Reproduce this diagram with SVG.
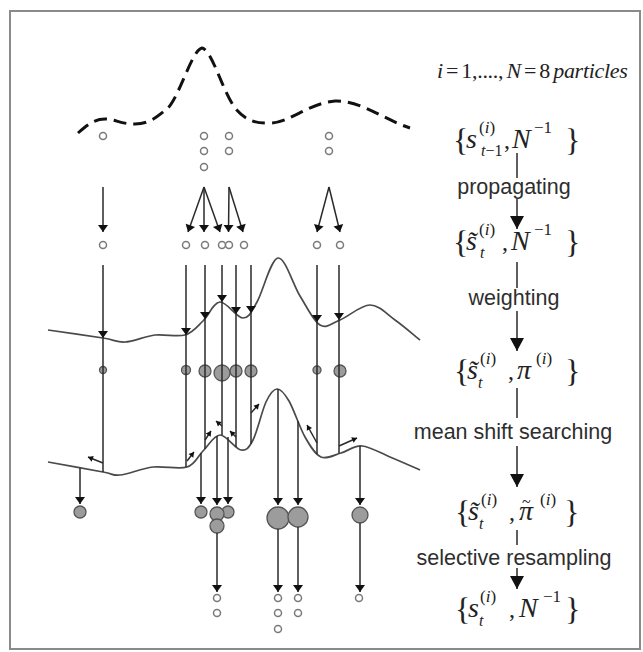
<svg xmlns="http://www.w3.org/2000/svg" width="643" height="652" viewBox="0 0 643 652">
<defs>
<style>
.hp{fill:#fff;stroke:#7a7a7a;stroke-width:1.5}
.wp{fill:#9c9c9c;stroke:#555;stroke-width:1.3}
.ln{stroke:#2a2a2a;stroke-width:1.5;fill:none}
.cv{stroke:#4a4a4a;stroke-width:1.7;fill:none}
.dash{stroke:#111;stroke-width:3;fill:none;stroke-dasharray:13 7}
.m{font-family:"Liberation Serif","Times New Roman",serif;fill:#222;font-size:28px}
.i{font-style:italic}
.lbl{font-family:"Liberation Sans",Arial,sans-serif;font-size:21.5px;fill:#2e2e2e;text-anchor:middle}
.br{font-size:32px}
.sp{font-size:17px}
.sb{font-size:16px}
.cm{font-size:24px}
.ah{marker-end:url(#ah)}
.sa{marker-end:url(#sm)}
.ba{marker-end:url(#big)}
</style>
<marker id="ah" markerUnits="userSpaceOnUse" viewBox="-8 -6 9 12" markerWidth="9" markerHeight="12" refX="0" refY="0" orient="auto"><path d="M-7,-5 L0,0 L-7,5 z" fill="#111"/></marker>
<marker id="sm" markerUnits="userSpaceOnUse" viewBox="-6 -4 7 8" markerWidth="7" markerHeight="8" refX="0" refY="0" orient="auto"><path d="M-5,-3 L0,0 L-5,3 z" fill="#111"/></marker>
<marker id="big" markerUnits="userSpaceOnUse" viewBox="-14 -8 15 16" markerWidth="15" markerHeight="16" refX="0" refY="0" orient="auto"><path d="M-13,-7 L0,0 L-13,7 z" fill="#111"/></marker>
</defs>
<rect width="643" height="652" fill="#fff"/>
<rect x="10" y="11" width="630" height="638" fill="none" stroke="#8a8a8a" stroke-width="2"/>

<g id="curves">
<path id="prior" class="dash" d="M78,133 C88,124 95,119 105,119 C115,119 120,124 135,124 C150,124 158,116 168,108 C180,95 192,50 202,48 C212,50 222,90 235,108 C245,120 255,124 272,123 C290,122 310,103 335,101 C360,100 385,120 410,128"/>
<path id="likelihood" class="cv" d="M48,330 C57.2,331.3 90.2,336 103,338 C115.8,340 116.3,342.5 125,342 C133.7,341.5 145,336.2 155,335 C165,333.8 177,337.3 185,335 C193,332.7 197.2,326.5 203,321 C208.8,315.5 213.3,302.5 220,302 C226.7,301.5 236.8,318 243,318 C249.2,318 251.2,312 257,302 C262.8,292 270.8,259 278,258 C285.2,257 293,284.8 300,296 C307,307.2 313.3,321 320,325 C326.7,329 331.7,323.3 340,320 C348.3,316.7 360.8,305 370,305 C379.2,305 386.7,314.2 395,320 C403.3,325.8 415.8,336.7 420,340"/>
<path id="likelihood-sharp" class="cv" d="M48,462 C57.2,463.7 91,469.8 103,472 C115,474.2 111.7,475.8 120,475 C128.3,474.2 141.8,468.3 153,467 C164.2,465.7 178.7,469.7 187,467 C195.3,464.3 197.5,456.3 203,451 C208.5,445.7 213.7,435.2 220,435 C226.3,434.8 235.5,449.2 241,450 C246.5,450.8 248.8,448 253,440 C257.2,432 262,410.5 266,402 C270,393.5 273.2,389.2 277,389 C280.8,388.8 284.3,393 289,401 C293.7,409 299.7,427.7 305,437 C310.3,446.3 315,454.3 321,457 C327,459.7 334.2,454.8 341,453 C347.8,451.2 353.8,445.3 362,446 C370.2,446.7 380.3,453 390,457 C399.7,461 415,467.8 420,470"/>
</g>

<g id="particles-prev">
<g id="p0-1"><circle class="hp" cx="103" cy="136" r="3.5"/></g>
<g id="p0-2"><circle class="hp" cx="204" cy="136" r="3.5"/></g>
<g id="p0-3"><circle class="hp" cx="204" cy="151" r="3.5"/></g>
<g id="p0-4"><circle class="hp" cx="204" cy="167" r="3.5"/></g>
<g id="p0-5"><circle class="hp" cx="229" cy="136" r="3.5"/></g>
<g id="p0-6"><circle class="hp" cx="229" cy="151" r="3.5"/></g>
<g id="p0-7"><circle class="hp" cx="329" cy="136" r="3.5"/></g>
<g id="p0-8"><circle class="hp" cx="329" cy="151" r="3.5"/></g>
</g>
<g id="particles-propagated">
<g id="p1-1"><circle class="hp" cx="103" cy="245" r="3.5"/></g>
<g id="p1-2"><circle class="hp" cx="186" cy="245" r="3.5"/></g>
<g id="p1-3"><circle class="hp" cx="205" cy="245" r="3.5"/></g>
<g id="p1-4"><circle class="hp" cx="222" cy="245" r="3.5"/></g>
<g id="p1-5"><circle class="hp" cx="229" cy="245" r="3.5"/></g>
<g id="p1-6"><circle class="hp" cx="244" cy="245" r="3.5"/></g>
<g id="p1-7"><circle class="hp" cx="317" cy="245" r="3.5"/></g>
<g id="p1-8"><circle class="hp" cx="340" cy="245" r="3.5"/></g>
</g>
<g id="particles-weighted">
<g id="p2-1"><circle class="wp" cx="103" cy="370" r="3.5"/></g>
<g id="p2-2"><circle class="wp" cx="186" cy="370" r="4.5"/></g>
<g id="p2-3"><circle class="wp" cx="205" cy="371" r="6"/></g>
<g id="p2-4"><circle class="wp" cx="222" cy="373" r="8"/></g>
<g id="p2-5"><circle class="wp" cx="236" cy="371" r="6"/></g>
<g id="p2-6"><circle class="wp" cx="251" cy="371" r="6"/></g>
<g id="p2-7"><circle class="wp" cx="317" cy="370" r="4"/></g>
<g id="p2-8"><circle class="wp" cx="340" cy="371" r="6"/></g>
</g>
<g id="particles-shifted">
<g id="p3-1"><circle class="wp" cx="80" cy="512" r="6"/></g>
<g id="p3-2"><circle class="wp" cx="201" cy="512" r="6"/></g>
<g id="p3-3"><circle class="wp" cx="228" cy="512" r="6"/></g>
<g id="p3-4"><circle class="wp" cx="217" cy="514" r="7"/></g>
<g id="p3-5"><circle class="wp" cx="217" cy="526" r="7"/></g>
<g id="p3-6"><circle class="wp" cx="278" cy="518" r="11"/></g>
<g id="p3-7"><circle class="wp" cx="298" cy="517" r="10"/></g>
<g id="p3-8"><circle class="wp" cx="360" cy="515" r="8"/></g>
</g>
<g id="particles-resampled">
<g id="p4-1"><circle class="hp" cx="217" cy="598" r="3.5"/></g>
<g id="p4-2"><circle class="hp" cx="217" cy="613" r="3.5"/></g>
<g id="p4-3"><circle class="hp" cx="278" cy="598" r="3.5"/></g>
<g id="p4-4"><circle class="hp" cx="278" cy="613" r="3.5"/></g>
<g id="p4-5"><circle class="hp" cx="278" cy="629" r="3.5"/></g>
<g id="p4-6"><circle class="hp" cx="298" cy="598" r="3.5"/></g>
<g id="p4-7"><circle class="hp" cx="298" cy="613" r="3.5"/></g>
<g id="p4-8"><circle class="hp" cx="359" cy="598" r="3.5"/></g>
</g>

<g id="connectors">
<g id="propagate-arrows" class="ln">
<line class="ah" x1="103" y1="187" x2="103" y2="232"/>
<line class="ah" x1="204" y1="187" x2="188" y2="232"/>
<line class="ah" x1="204" y1="187" x2="204" y2="232"/>
<line class="ah" x1="204" y1="187" x2="220" y2="232"/>
<line class="ah" x1="229" y1="187" x2="228.5" y2="232"/>
<line class="ah" x1="229" y1="187" x2="243" y2="232"/>
<line class="ah" x1="329" y1="187" x2="317" y2="232"/>
<line class="ah" x1="329" y1="187" x2="340" y2="232"/>
</g>
<g id="weight-arrows" class="ln">
<line class="ah" x1="103" y1="265" x2="103" y2="338"/>
<line class="ah" x1="186" y1="265" x2="186" y2="335"/>
<line class="ah" x1="205" y1="265" x2="205" y2="319"/>
<line class="ah" x1="222" y1="265" x2="222" y2="302"/>
<line class="ah" x1="236" y1="265" x2="236" y2="314"/>
<line class="ah" x1="251" y1="265" x2="251" y2="313"/>
<line class="ah" x1="317" y1="265" x2="317" y2="322"/>
<line class="ah" x1="339" y1="265" x2="339" y2="320"/>
<line x1="103" y1="338" x2="103" y2="472"/>
<line x1="186" y1="335" x2="186" y2="467"/>
<line x1="205" y1="319" x2="205" y2="449"/>
<line x1="222" y1="302" x2="222" y2="435"/>
<line x1="236" y1="314" x2="236" y2="447"/>
<line x1="251" y1="313" x2="251" y2="444"/>
<line x1="317" y1="322" x2="317" y2="454"/>
<line x1="339" y1="320" x2="339" y2="453"/>
</g>
<g id="shift-arrows" class="ln" stroke-width="1.2">
<line class="sa" x1="103" y1="463" x2="88" y2="457"/>
<line class="sa" x1="187" y1="461" x2="194" y2="452"/>
<line class="sa" x1="205" y1="440" x2="211" y2="431"/>
<line class="sa" x1="222" y1="426" x2="216" y2="421"/>
<line class="sa" x1="236" y1="437" x2="230" y2="431"/>
<line class="sa" x1="251" y1="413" x2="259" y2="404"/>
<line class="sa" x1="317" y1="443" x2="307" y2="425"/>
<line class="sa" x1="339" y1="446" x2="357" y2="438"/>
</g>
<g id="shift-drops" class="ln">
<line class="ah" x1="80" y1="468" x2="80" y2="504"/>
<line class="ah" x1="201" y1="453" x2="201" y2="504"/>
<line class="ah" x1="217" y1="436" x2="217" y2="505"/>
<line class="ah" x1="228" y1="437" x2="228" y2="504"/>
<line class="ah" x1="278" y1="389" x2="278" y2="505"/>
<line class="ah" x1="298" y1="421" x2="298" y2="505"/>
<line class="ah" x1="360" y1="446" x2="360" y2="505"/>
</g>
<g id="resample-arrows" class="ln">
<line class="ah" x1="217" y1="533" x2="217" y2="592"/>
<line class="ah" x1="278" y1="529" x2="278" y2="592"/>
<line class="ah" x1="298" y1="527" x2="298" y2="592"/>
<line class="ah" x1="360" y1="523" x2="360" y2="592"/>
</g>
<g id="stage-arrows" class="ln">
<line x1="517" y1="153" x2="517" y2="178"/>
<line class="ba" x1="517" y1="199" x2="517" y2="229"/>
<line x1="517" y1="262" x2="517" y2="288"/>
<line class="ba" x1="517" y1="311" x2="517" y2="351"/>
<line x1="517" y1="388" x2="517" y2="418"/>
<line class="ba" x1="517" y1="446" x2="517" y2="487"/>
<line x1="517" y1="530" x2="517" y2="545"/>
<line class="ba" x1="517" y1="568" x2="517" y2="589"/>
</g>
<g id="stage-labels">
<text class="lbl" x="514" y="194">propagating</text>
<text class="lbl" x="514" y="305">weighting</text>
<text class="lbl" x="513" y="439">mean shift searching</text>
<text class="lbl" x="514" y="565">selective resampling</text>
</g>
</g>

<g id="title">
<text class="m" x="437" y="78" style="font-size:22px" letter-spacing="-0.3" word-spacing="-2"><tspan class="i">i</tspan> = 1,...., <tspan class="i">N</tspan> = 8 <tspan class="i">particles</tspan></text>
</g>

<g id="set-prev">
<text class="m"><tspan class="br" x="453" y="151">{</tspan><tspan class="i" x="466" y="148">s</tspan><tspan class="sp" x="479" y="133">(<tspan class="i">i</tspan>)</tspan><tspan class="sb" x="481" y="156"><tspan class="i">t</tspan>−1</tspan><tspan class="cm" x="504" y="148">,</tspan><tspan class="i" x="512" y="148">N</tspan><tspan class="sp" x="534" y="133">−1</tspan><tspan class="br" x="565" y="151">}</tspan></text>
</g>

<g id="set-propagated">
<text class="m"><tspan class="br" x="453" y="253">{</tspan><tspan class="i" x="466" y="250">s&#x303;</tspan><tspan class="sp" x="479" y="235">(<tspan class="i">i</tspan>)</tspan><tspan class="sb i" x="480" y="258">t</tspan><tspan class="cm" x="502" y="250">,</tspan><tspan class="i" x="511" y="250">N</tspan><tspan class="sp" x="534" y="235">−1</tspan><tspan class="br" x="565" y="253">}</tspan></text>
</g>

<g id="set-weighted">
<text class="m"><tspan class="br" x="454" y="382">{</tspan><tspan class="i" x="467" y="379">s&#x303;</tspan><tspan class="sp" x="480" y="364">(<tspan class="i">i</tspan>)</tspan><tspan class="sb i" x="478" y="388">t</tspan><tspan class="cm" x="508" y="379">,</tspan><tspan class="i" x="517" y="379">π</tspan><tspan class="sp" x="536" y="364">(<tspan class="i">i</tspan>)</tspan><tspan class="br" x="565" y="382">}</tspan></text>
</g>

<g id="set-shifted">
<text class="m"><tspan class="br" x="455" y="523">{</tspan><tspan class="i" x="468" y="520">s&#x303;</tspan><tspan class="sp" x="481" y="505">(<tspan class="i">i</tspan>)</tspan><tspan class="sb i" x="479" y="529">t</tspan><tspan class="cm" x="509" y="520">,</tspan><tspan class="i" x="519" y="520">π</tspan><tspan class="sb" x="522" y="507">~</tspan><tspan class="sp" x="540" y="505">(<tspan class="i">i</tspan>)</tspan><tspan class="br" x="564" y="523">}</tspan></text>
</g>

<g id="set-resampled">
<text class="m"><tspan class="br" x="455" y="620">{</tspan><tspan class="i" x="468" y="617">s</tspan><tspan class="sp" x="480" y="602">(<tspan class="i">i</tspan>)</tspan><tspan class="sb i" x="479" y="626">t</tspan><tspan class="cm" x="509" y="617">,</tspan><tspan class="i" x="519" y="617">N</tspan><tspan class="sp" x="543" y="602">−1</tspan><tspan class="br" x="565" y="620">}</tspan></text>
</g>
</svg>
